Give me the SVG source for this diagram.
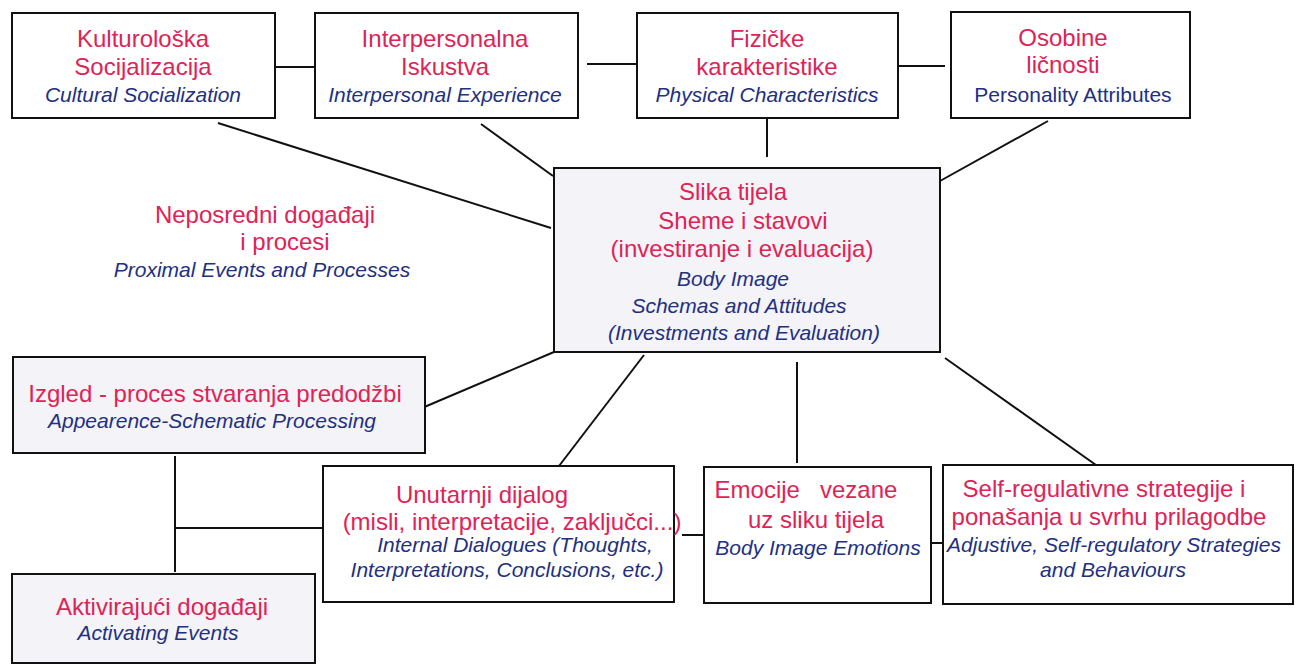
<svg xmlns="http://www.w3.org/2000/svg" width="1298" height="666" viewBox="0 0 1298 666">
<style>
  .box { fill: #ffffff; stroke: #111111; stroke-width: 2; }
  .shade { fill: #f4f3f7; }
  .conn line { stroke: #111111; stroke-width: 2; }
  text { font-family: "Liberation Sans", Arial, sans-serif; text-anchor: middle; }
  .r { fill: #dc2456; font-size: 24px; }
  .b { fill: #22307f; font-size: 21px; font-style: italic; }
  .bn { fill: #22307f; font-size: 21px; }
  .pre { white-space: pre; }
</style>
<rect x="0" y="0" width="1298" height="666" fill="#ffffff"/>

<g id="connectors" class="conn">
  <line x1="275" y1="67" x2="323" y2="67"/>
  <line x1="587" y1="64" x2="637" y2="64"/>
  <line x1="898" y1="66" x2="945" y2="66"/>
  <line x1="218" y1="123" x2="551" y2="228"/>
  <line x1="481" y1="124" x2="553" y2="176"/>
  <line x1="767" y1="118" x2="767" y2="157"/>
  <line x1="1048" y1="121" x2="940" y2="181"/>
  <line x1="422" y1="408" x2="554" y2="352"/>
  <line x1="644" y1="355" x2="559" y2="466"/>
  <line x1="797" y1="362" x2="797" y2="463"/>
  <line x1="945" y1="358" x2="1103" y2="470"/>
  <line x1="175" y1="456" x2="175" y2="572"/>
  <line x1="175" y1="528" x2="330" y2="528"/>
  <line x1="682" y1="535" x2="704" y2="535"/>
  <line x1="925" y1="543" x2="943" y2="543"/>
</g>

<g id="kulturoloska">
  <rect class="box" x="12" y="13" width="263" height="105"/>
  <text class="r" x="143" y="47">Kulturološka</text>
  <text class="r" x="143" y="75">Socijalizacija</text>
  <text class="b" x="143" y="102">Cultural Socialization</text>
</g>

<g id="interpersonalna">
  <rect class="box" x="315" y="13" width="263" height="105"/>
  <text class="r" x="445" y="47">Interpersonalna</text>
  <text class="r" x="445" y="75">Iskustva</text>
  <text class="b" x="445" y="102">Interpersonal Experience</text>
</g>

<g id="fizicke">
  <rect class="box" x="637" y="13" width="261" height="105"/>
  <text class="r" x="767" y="47">Fizičke</text>
  <text class="r" x="767" y="75">karakteristike</text>
  <text class="b" x="767" y="102">Physical Characteristics</text>
</g>

<g id="osobine">
  <rect class="box" x="951" y="12" width="239" height="106"/>
  <text class="r" x="1063" y="46">Osobine</text>
  <text class="r" x="1063" y="73">ličnosti</text>
  <text class="bn" x="1073" y="102">Personality Attributes</text>
</g>

<g id="slika-tijela">
  <rect class="box shade" x="554" y="168" width="386" height="184"/>
  <text class="r" x="733" y="200">Slika tijela</text>
  <text class="r" x="743" y="229">Sheme i stavovi</text>
  <text class="r" x="742" y="257">(investiranje i evaluacija)</text>
  <text class="b" x="733" y="286">Body Image</text>
  <text class="b" x="739" y="313">Schemas and Attitudes</text>
  <text class="b" x="744" y="340">(Investments and Evaluation)</text>
</g>

<g id="neposredni">
  <text class="r" x="265" y="223">Neposredni događaji</text>
  <text class="r" x="285" y="250">i procesi</text>
  <text class="b" x="262" y="277">Proximal Events and Processes</text>
</g>

<g id="izgled">
  <rect class="box shade" x="13" y="357" width="412" height="96"/>
  <text class="r" x="215" y="402">Izgled - proces stvaranja predodžbi</text>
  <text class="b" x="212" y="428">Appearence-Schematic Processing</text>
</g>

<g id="aktivirajuci">
  <rect class="box shade" x="12" y="574" width="303" height="89"/>
  <text class="r" x="162" y="615">Aktivirajući događaji</text>
  <text class="b" x="158" y="640">Activating Events</text>
</g>

<g id="unutarnji">
  <rect class="box" x="323" y="466" width="351" height="136"/>
  <text class="r" x="482" y="503">Unutarnji dijalog</text>
  <text class="r" x="512" y="530">(misli, interpretacije, zaključci...)</text>
  <text class="b" x="515" y="552">Internal Dialogues (Thoughts,</text>
  <text class="b" x="507" y="577">Interpretations, Conclusions, etc.)</text>
</g>

<g id="emocije">
  <rect class="box" x="704" y="467" width="227" height="136"/>
  <text class="r pre" x="806" y="498">Emocije   vezane</text>
  <text class="r" x="816" y="528">uz sliku tijela</text>
  <text class="b" x="818" y="555">Body Image Emotions</text>
</g>

<g id="self-regulativne">
  <rect class="box" x="943" y="465" width="350" height="139"/>
  <text class="r" x="1104" y="497">Self-regulativne strategije i</text>
  <text class="r" x="1109" y="525">ponašanja u svrhu prilagodbe</text>
  <text class="b" x="1114" y="552">Adjustive, Self-regulatory Strategies</text>
  <text class="b" x="1113" y="577">and Behaviours</text>
</g>
</svg>
